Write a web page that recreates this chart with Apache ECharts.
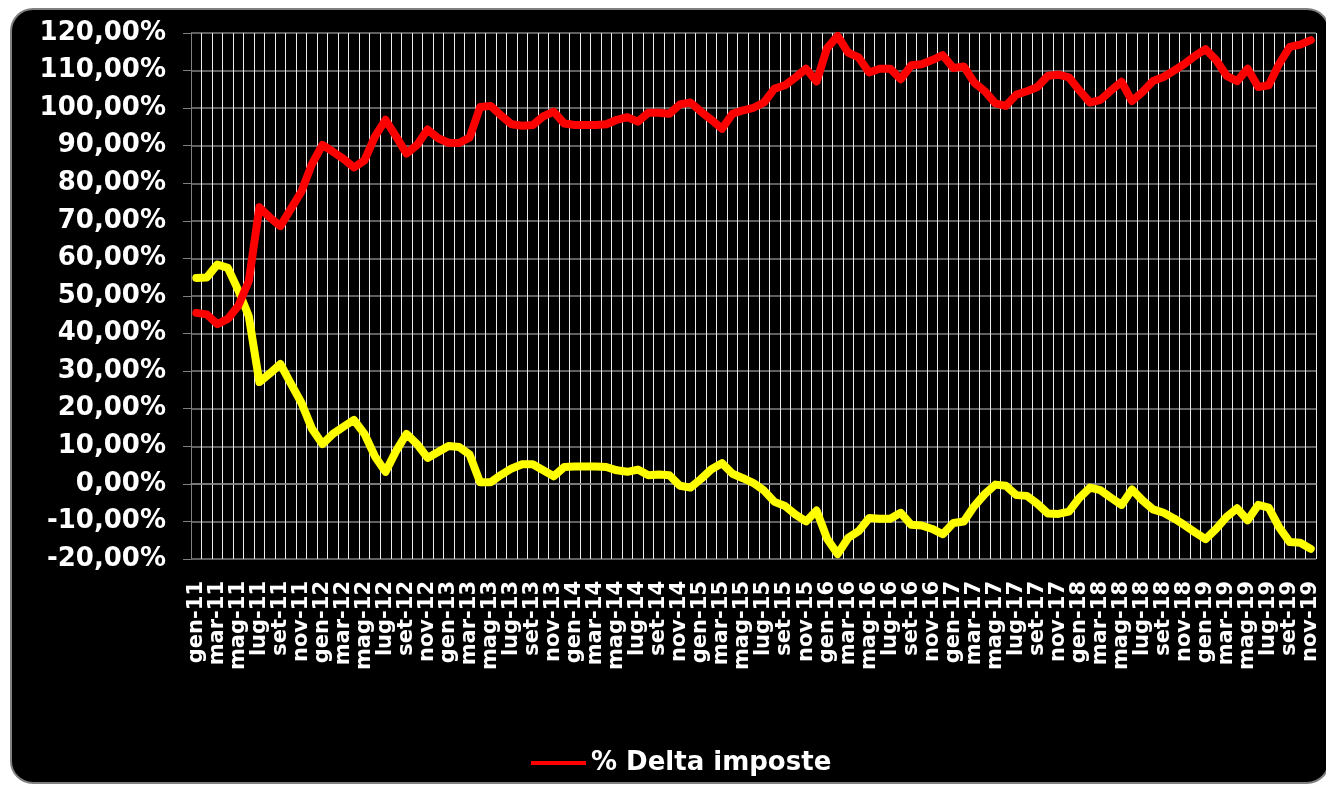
<!DOCTYPE html>
<html lang="it">
<head>
<meta charset="utf-8">
<title>% Delta imposte</title>
<script src="https://cdn.jsdelivr.net/npm/echarts@6/dist/echarts.min.js"></script>
<style>
  html, body { margin: 0; padding: 0; background: #ffffff; }
  #chart { width: 1326px; height: 786px; }
</style>
</head>
<body>
<div id="chart"></div>
<script>
// mesi e anni per le etichette dell'asse x (gen-11 ... nov-19)
const mesi = ['gen', 'feb', 'mar', 'apr', 'mag', 'giu', 'lug', 'ago', 'set', 'ott', 'nov', 'dic'];
const anni = ['11', '12', '13', '14', '15', '16', '17', '18', '19'];
const ultimoMese = 'nov-19';

// serie rossa: % Delta imposte
const deltaImposte = [
  45.5, 45.1, 42.5, 43.9, 47.4, 54.0, 73.6, 70.9, 68.6, 73.2,
  77.8, 85.1, 90.2, 88.4, 86.5, 84.2, 86.1, 92.5, 96.9, 92.5,
  87.9, 90.2, 94.3, 92.0, 90.8, 90.7, 92.2, 100.3, 100.6, 98.0,
  95.7, 95.3, 95.5, 97.8, 99.1, 95.9, 95.5, 95.5, 95.5, 95.7,
  96.9, 97.6, 96.4, 98.8, 98.8, 98.5, 101.0, 101.5, 99.1, 96.9,
  94.5, 98.5, 99.4, 100.1, 101.5, 105.2, 106.1, 108.2, 110.5, 107.1,
  116.0, 119.2, 114.8, 113.5, 109.5, 110.5, 110.5, 107.7, 111.4, 111.7,
  112.8, 114.1, 110.7, 111.1, 106.8, 104.5, 101.3, 100.6, 103.6, 104.5,
  105.6, 108.6, 108.9, 108.2, 104.7, 101.5, 102.2, 104.7, 107.0, 101.9,
  104.3, 107.2, 108.3, 110.0, 111.8, 113.9, 115.7, 112.8, 108.6, 107.2,
  110.5, 105.6, 106.1, 111.8, 116.3, 116.9, 118.1
];

// serie gialla (non riportata in legenda)
const serieGialla = [
  54.8, 54.9, 58.4, 57.5, 51.5, 44.6, 27.1, 29.4, 31.9, 26.7,
  21.6, 14.7, 10.6, 13.3, 15.2, 17.0, 13.3, 7.3, 3.2, 8.7,
  13.3, 10.6, 6.9, 8.5, 10.1, 9.8, 7.8, 0.4, 0.4, 2.4,
  4.1, 5.2, 5.2, 3.6, 2.0, 4.5, 4.6, 4.6, 4.6, 4.5,
  3.6, 3.2, 3.8, 2.3, 2.5, 2.3, -0.5, -1.0, 1.3, 3.9,
  5.5, 2.7, 1.5, 0.2, -1.8, -4.8, -5.9, -8.2, -10.0, -7.1,
  -14.6, -18.7, -14.4, -12.6, -9.1, -9.3, -9.3, -7.7, -10.9, -11.1,
  -12.0, -13.4, -10.4, -10.0, -5.9, -2.7, -0.2, -0.5, -3.0, -3.2,
  -5.3, -7.9, -8.0, -7.4, -3.7, -1.0, -1.7, -3.7, -5.6, -1.5,
  -4.4, -6.8, -7.7, -9.2, -11.0, -12.9, -14.7, -12.0, -8.8, -6.5,
  -9.7, -5.6, -6.3, -11.6, -15.5, -15.7, -17.3
];

const categorie = [];
for (const a of anni) {
  for (const m of mesi) {
    categorie.push(m + '-' + a);
    if (m + '-' + a === ultimoMese) break;
  }
}

const chart = echarts.init(document.getElementById('chart'));
const font = 'DejaVu Sans, Verdana, sans-serif';

const option = {
  backgroundColor: '#ffffff',
  animation: false,
  graphic: [
    {
      type: 'rect',
      z: -10,
      silent: true,
      shape: { x: 11, y: 9, width: 1318, height: 774, r: 22 },
      style: { fill: '#000000', stroke: '#808080', lineWidth: 2 }
    }
  ],
  grid: {
    left: 191,
    right: 10,
    top: 33,
    bottom: 227
  },
  legend: {
    data: ['% Delta imposte'],
    left: 526,
    top: 745,
    icon: 'rect',
    itemWidth: 55,
    itemHeight: 4,
    itemGap: 20,
    itemStyle: { color: '#ff0000' },
    textStyle: {
      color: '#ffffff',
      fontFamily: font,
      fontWeight: 'bold',
      fontSize: 26
    }
  },
  xAxis: {
    type: 'category',
    data: categorie,
    boundaryGap: true,
    axisLine: { lineStyle: { color: '#808080', width: 1.5 } },
    axisTick: { interval: 1, length: 7, lineStyle: { color: '#808080' } },
    axisLabel: {
      interval: 1,
      rotate: 90,
      margin: 22,
      color: '#ffffff',
      fontFamily: font,
      fontWeight: 'bold',
      fontSize: 21
    },
    splitLine: {
      show: true,
      interval: 0,
      lineStyle: { color: '#ececec', width: 1 }
    }
  },
  yAxis: {
    type: 'value',
    min: -20,
    max: 120,
    interval: 10,
    axisLine: { show: true, lineStyle: { color: '#808080' } },
    axisTick: { show: true, length: 8, lineStyle: { color: '#808080' } },
    axisLabel: {
      margin: 25,
      color: '#ffffff',
      fontFamily: font,
      fontWeight: 'bold',
      fontSize: 26,
      formatter: (v) => v.toFixed(2).replace('.', ',') + '%'
    },
    splitLine: { lineStyle: { color: '#808080', width: 1.5 } }
  },
  series: [
    {
      name: 'Serie 2',
      type: 'line',
      data: serieGialla,
      symbol: 'none',
      lineStyle: { color: '#ffff00', width: 8, cap: 'round', join: 'round' },
      itemStyle: { color: '#ffff00' }
    },
    {
      name: '% Delta imposte',
      type: 'line',
      data: deltaImposte,
      symbol: 'none',
      lineStyle: { color: '#ff0000', width: 8, cap: 'round', join: 'round' },
      itemStyle: { color: '#ff0000' }
    }
  ]
};

chart.setOption(option);
</script>
</body>
</html>
